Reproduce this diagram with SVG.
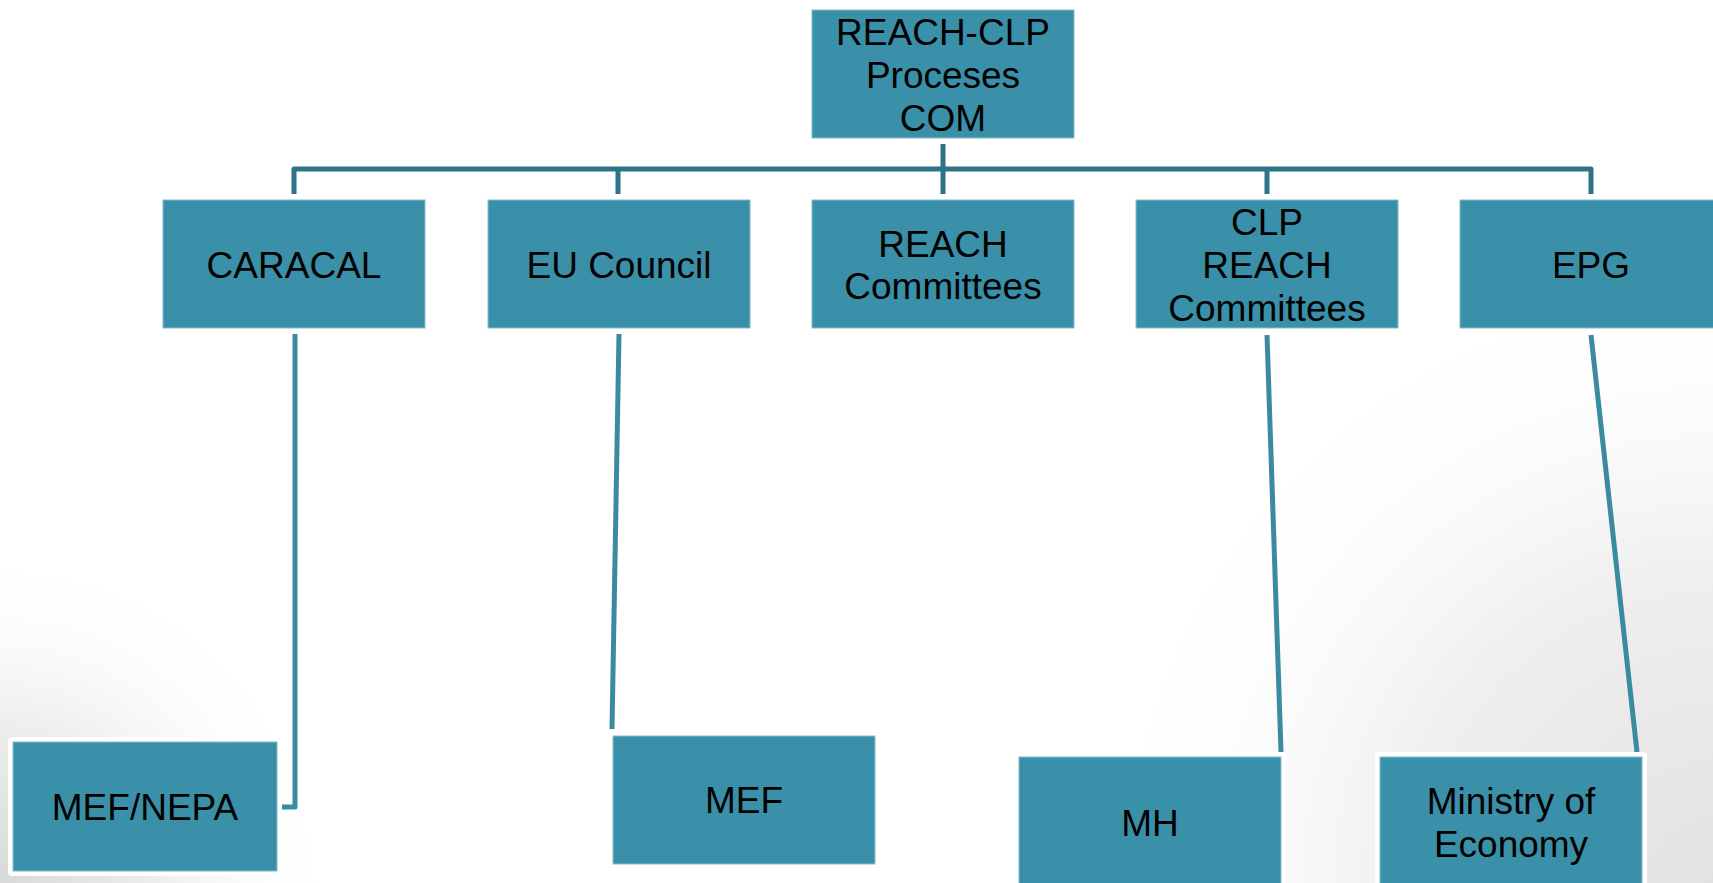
<svg xmlns="http://www.w3.org/2000/svg" width="1713" height="883" viewBox="0 0 1713 883">
  <defs>
    <radialGradient id="bgBL" cx="0" cy="883" r="330" gradientUnits="userSpaceOnUse">
      <stop offset="0" stop-color="#d9d9d9"/>
      <stop offset="0.45" stop-color="#ececec"/>
      <stop offset="1" stop-color="#ffffff" stop-opacity="0"/>
    </radialGradient>
    <radialGradient id="bgBR" cx="1713" cy="883" r="620" gradientUnits="userSpaceOnUse">
      <stop offset="0" stop-color="#e2e2e2"/>
      <stop offset="0.5" stop-color="#efefef"/>
      <stop offset="1" stop-color="#ffffff" stop-opacity="0"/>
    </radialGradient>
    <style>
      .box { fill: #3a90a8; stroke: #86bccb; stroke-width: 1; }
      .back { fill: #ffffff; }
      .lbl { font-family: "Liberation Sans", Arial, sans-serif; font-size: 37px; fill: #000000; text-anchor: middle; }
      .bracket { fill: none; stroke: #2f7386; stroke-width: 5; stroke-linejoin: round; stroke-linecap: butt; }
      .link { fill: none; stroke: #3a8ba2; stroke-width: 5; stroke-linejoin: round; }
    </style>
  </defs>

  <rect x="0" y="0" width="1713" height="883" fill="#ffffff"/>
  <rect x="0" y="0" width="1713" height="883" fill="url(#bgBL)"/>
  <rect x="0" y="0" width="1713" height="883" fill="url(#bgBR)"/>

  <g id="connectors">
    <path class="bracket" d="M294,194 V169 H1591 V194"/>
    <path class="bracket" d="M943,144 V194"/>
    <path class="bracket" d="M618,169 V194"/>
    <path class="bracket" d="M1267,169 V194"/>
    <path class="link" d="M295,334 V807 H282"/>
    <path class="link" d="M619,334 L612,729"/>
    <path class="link" d="M1267,335 L1281,752"/>
    <path class="link" d="M1591,335 L1637,752"/>
  </g>

  <g id="node-top">
    <rect class="box" x="812" y="10" width="262" height="128"/>
    <text class="lbl" x="943" y="45">REACH-CLP</text>
    <text class="lbl" x="943" y="88">Proceses</text>
    <text class="lbl" x="943" y="131">COM</text>
  </g>

  <g id="node-caracal">
    <rect class="box" x="163" y="200" width="262" height="128"/>
    <text class="lbl" x="294" y="278">CARACAL</text>
  </g>

  <g id="node-eu-council">
    <rect class="box" x="488" y="200" width="262" height="128"/>
    <text class="lbl" x="619" y="278">EU Council</text>
  </g>

  <g id="node-reach-committees">
    <rect class="box" x="812" y="200" width="262" height="128"/>
    <text class="lbl" x="943" y="257">REACH</text>
    <text class="lbl" x="943" y="299">Committees</text>
  </g>

  <g id="node-clp-reach">
    <rect class="box" x="1136" y="200" width="262" height="128"/>
    <text class="lbl" x="1267" y="235">CLP</text>
    <text class="lbl" x="1267" y="278">REACH</text>
    <text class="lbl" x="1267" y="321">Committees</text>
  </g>

  <g id="node-epg">
    <rect class="box" x="1460" y="200" width="262" height="128"/>
    <text class="lbl" x="1591" y="278">EPG</text>
  </g>

  <g id="node-mef-nepa">
    <rect class="back" x="8" y="737" width="274" height="139" rx="4"/>
    <rect class="box" x="13" y="742" width="264" height="129"/>
    <text class="lbl" x="145" y="820">MEF/NEPA</text>
  </g>

  <g id="node-mef">
    <rect class="back" x="608" y="731" width="272" height="138" rx="4"/>
    <rect class="box" x="613" y="736" width="262" height="128"/>
    <text class="lbl" x="744" y="813">MEF</text>
  </g>

  <g id="node-mh">
    <rect class="back" x="1014" y="752" width="272" height="140" rx="4"/>
    <rect class="box" x="1019" y="757" width="262" height="128"/>
    <text class="lbl" x="1150" y="836">MH</text>
  </g>

  <g id="node-ministry">
    <rect class="back" x="1375" y="752" width="272" height="140" rx="4"/>
    <rect class="box" x="1380" y="757" width="262" height="128"/>
    <text class="lbl" x="1511" y="814">Ministry of</text>
    <text class="lbl" x="1511" y="857">Economy</text>
  </g>
</svg>
